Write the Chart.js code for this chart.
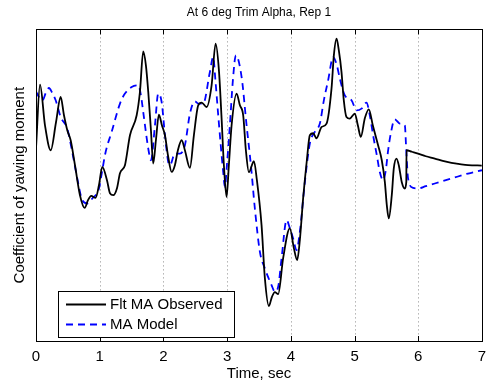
<!DOCTYPE html>
<html>
<head>
<meta charset="utf-8">
<script src="https://cdn.jsdelivr.net/npm/chart.js@4/dist/chart.umd.min.js"></script>
<style>
html,body{margin:0;padding:0;background:#fff;}
#wrap{width:487px;height:388px;position:relative;}
</style>
</head>
<body>
<div id="wrap"><canvas id="c" width="487" height="388"></canvas></div>
<script>
// Data (time in sec, moment in arbitrary units)
const observedT = [0,0.063,0.141,0.231,0.314,0.387,0.439,0.491,0.544,0.612,0.69,0.764,0.816,0.867,0.936,0.988,1.04,1.114,1.161,1.213,1.271,1.318,1.396,1.475,1.58,1.631,1.683,1.725,1.762,1.804,1.84,1.882,1.929,1.976,2.024,2.071,2.129,2.18,2.227,2.286,2.337,2.416,2.478,2.546,2.6,2.678,2.756,2.819,2.871,2.913,2.949,2.991,3.027,3.07,3.148,3.2,3.252,3.294,3.341,3.42,3.467,3.54,3.592,3.655,3.702,3.749,3.801,3.879,3.984,4.047,4.099,4.141,4.193,4.251,4.298,4.35,4.403,4.482,4.56,4.638,4.675,4.717,4.753,4.795,4.831,4.873,4.925,5.004,5.051,5.098,5.161,5.224,5.286,5.369,5.427,5.475,5.506,5.537,5.584,5.616,5.658,5.694,5.741,5.788,5.812,5.815,5.898,5.997,6.118,6.259,6.384,6.521,6.651,6.781,6.996];
const observedV = [193,256.7,216,191,219,244.3,226,211,201,176,146,133.3,141,145.3,143.3,156,174.3,161,148,146,153,168,176,206,226,249.3,290,276,249.3,211,177.7,201,226.7,216,206,186,169.3,176,191,201,191,173.3,206,236,238.7,234.3,256,297.7,271,222.7,176,144.3,176,216,247.7,236,226,191,169,180,161,116,63,35,44,49,47,83,112.7,93,81,101,143,181,206,208,203,214.3,217.7,252.7,286,302.7,291,269.3,241,224.3,222.7,227.7,216,204.3,223,232,216,196,181,159.3,136,122.7,146,173,182.7,176,159,152.7,159.3,191,189.5,187.7,185,182.7,180.3,178.3,177,176,175.7];
const modelT = [0,0.047,0.102,0.157,0.204,0.251,0.309,0.387,0.491,0.569,0.648,0.726,0.805,0.883,0.988,1.035,1.093,1.187,1.318,1.396,1.501,1.605,1.647,1.683,1.762,1.804,1.867,1.918,1.972,2.024,2.075,2.102,2.18,2.259,2.337,2.416,2.494,2.546,2.624,2.729,2.781,2.816,2.86,2.938,2.965,2.996,3.043,3.09,3.137,3.227,3.305,3.373,3.435,3.514,3.592,3.697,3.749,3.801,3.854,3.933,3.984,4.036,4.089,4.141,4.22,4.298,4.376,4.455,4.518,4.585,4.664,4.722,4.769,4.847,4.952,5.031,5.109,5.187,5.239,5.291,5.349,5.396,5.448,5.49,5.527,5.569,5.631,5.71,5.788,5.815,5.84,5.918,5.997,6.118,6.259,6.521,6.781,7.0];
const modelV = [250,244,241,249,253.3,249,241,224.3,212.7,189.3,162.7,141,137.7,142.7,152.7,169,189.3,209.3,237.7,247.7,254.3,256,246,229.3,192.7,181,216,247.7,239.3,206,179.3,176,187.7,187.7,196,227.7,240,237.7,237.7,269.3,284.3,261,226,169.3,154.3,176,216,261,286,264.3,216,176,132.7,89.3,72.7,56,49.3,54.3,82.7,121,113,102.7,91,109.3,159.3,197.7,209.3,217.7,241,261,284.3,276,262.7,246,241,231,232.7,238.7,226,206,186,169.3,161,171,191,208,222,217.7,216,186,162.7,153.3,152.7,155,157.7,162.7,167.7,171];
const xTicks = [0,1,2,3,4,5,6,7];
const seriesNames = ['Flt MA Observed','MA Model'];
const titleText = 'At 6 deg Trim Alpha, Rep 1';
const xTitle = 'Time, sec';
const yTitle = 'Coefficient of yawing moment';

const FONT = '"Liberation Sans", Arial, Helvetica, sans-serif';

const toXY = (t, v) => t.map((x, i) => ({x: x, y: v[i]}));

const framePlugin = {
  id: 'frame',
  beforeDatasetsDraw(chart) {
    const {ctx, chartArea: a, scales: {x}} = chart;
    ctx.save();
    ctx.strokeStyle = '#8c8c8c';
    ctx.lineWidth = 1;
    ctx.setLineDash([1, 3]);
    xTicks.forEach(t => {
      if (t === 0 || t === 7) return;
      const px = Math.round(x.getPixelForValue(t)) + 0.5;
      ctx.beginPath(); ctx.moveTo(px, a.top); ctx.lineTo(px, a.bottom); ctx.stroke();
    });
    ctx.restore();
  },
  afterDatasetsDraw(chart) {
    const {ctx, chartArea: a, scales: {x}} = chart;
    ctx.save();
    ctx.strokeStyle = '#000';
    ctx.lineWidth = 1;
    xTicks.forEach(t => {
      const px = Math.round(x.getPixelForValue(t)) + 0.5;
      ctx.beginPath(); ctx.moveTo(px, a.bottom); ctx.lineTo(px, a.bottom - 5); ctx.stroke();
      ctx.beginPath(); ctx.moveTo(px, a.top); ctx.lineTo(px, a.top + 5); ctx.stroke();
    });
    ctx.strokeRect(Math.round(a.left) + 0.5, Math.round(a.top) + 0.5, Math.round(a.right - a.left), Math.round(a.bottom - a.top));
    // legend
    const lx = 58, ly = 291, lw = 176, lh = 46;
    ctx.fillStyle = '#fff';
    ctx.fillRect(lx, ly, lw, lh);
    ctx.strokeRect(lx + 0.5, ly + 0.5, lw, lh);
    const ds = chart.data.datasets;
    const rows = [304, 324];
    ds.forEach((d, i) => {
      ctx.strokeStyle = d.borderColor;
      ctx.lineWidth = d.borderWidth;
      ctx.setLineDash(d.borderDash || []);
      ctx.beginPath(); ctx.moveTo(66, rows[i] + 0.5); ctx.lineTo(106, rows[i] + 0.5); ctx.stroke();
      ctx.setLineDash([]);
      ctx.fillStyle = '#000';
      ctx.font = '15px ' + FONT;
      ctx.textBaseline = 'middle';
      ctx.textAlign = 'left';
      ctx.fillText(d.label, 110, rows[i] + 1);
    });
    ctx.restore();
  }
};

new Chart(document.getElementById('c'), {
  type: 'line',
  data: {
    datasets: [
      {label: seriesNames[0], data: toXY(observedT, observedV), borderColor: '#000000', borderWidth: 1.8, pointRadius: 0, cubicInterpolationMode: 'monotone', fill: false},
      {label: seriesNames[1], data: toXY(modelT, modelV), borderColor: '#0000ff', borderWidth: 1.8, borderDash: [7, 5], pointRadius: 0, cubicInterpolationMode: 'monotone', fill: false}
    ]
  },
  options: {
    responsive: false,
    animation: false,
    events: [],
    layout: {padding: {left: 0, right: 5, top: 0, bottom: 5}},
    plugins: {
      legend: {display: false},
      tooltip: {enabled: false},
      title: {display: true, text: titleText, fullSize: false, color: '#000', font: {family: FONT, size: 12, weight: 'normal'}, padding: {top: 5, bottom: 10}}
    },
    scales: {
      x: {
        type: 'linear', min: 0, max: 7,
        afterFit(scale) { scale.paddingRight = 0; scale.paddingLeft = 0; },
        grid: {display: false, drawTicks: false},
        border: {display: false},
        ticks: {stepSize: 1, color: '#000', padding: 8, font: {family: FONT, size: 15, lineHeight: 1}, callback: v => xTicks.includes(v) ? String(v) : ''},
        title: {display: true, text: xTitle, color: '#000', font: {family: FONT, size: 15}, padding: {top: -7, bottom: 0}}
      },
      y: {
        min: 0, max: 312,
        grid: {display: false, drawTicks: false},
        border: {display: false},
        ticks: {display: false},
        title: {display: true, text: yTitle, color: '#000', font: {family: FONT, size: 15}, padding: {top: 11, bottom: 7}}
      }
    }
  },
  plugins: [framePlugin]
});
</script>
</body>
</html>
